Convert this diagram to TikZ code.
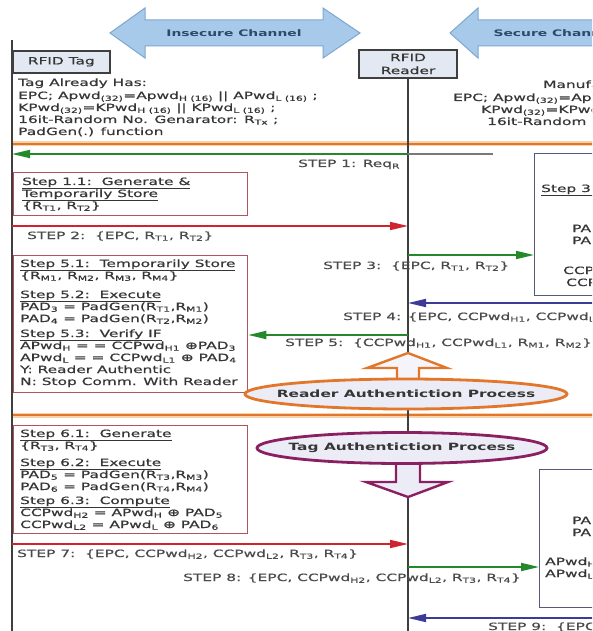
\documentclass[tikz,border=0pt]{standalone}
\usepackage{fontspec}
\setmainfont[FakeStretch=1.54, UprightFeatures={FakeBold=0.6}]{DejaVu Sans}
\usetikzlibrary{arrows.meta}

\definecolor{chanblue}{HTML}{A7C9EA}
\definecolor{chanedge}{HTML}{7EA7D0}
\definecolor{chantext}{HTML}{2E4A6B}
\definecolor{agentfill}{HTML}{E3E9F2}
\definecolor{lifegray}{HTML}{3F3F3F}
\definecolor{txtgray}{HTML}{363636}
\definecolor{steporange}{HTML}{E2762A}
\definecolor{palorange}{HTML}{F6D2AE}
\definecolor{arrgreen}{HTML}{23892B}
\definecolor{arrred}{HTML}{D0232E}
\definecolor{arrblue}{HTML}{3C3C96}
\definecolor{boxred}{HTML}{B4525E}
\definecolor{boxblue}{HTML}{56597A}
\definecolor{tagpurple}{HTML}{8A2061}
\definecolor{ellfill}{HTML}{ECECF6}

\newcommand\ix[1]{\textsubscript{#1}}

\tikzset{
  txt/.style={anchor=base west, inner sep=0pt, text=txtgray},
  steplbl/.style={anchor=base west, inner sep=0pt, text=txtgray!90},
  agent/.style={draw=lifegray, line width=1.6pt, fill=agentfill, text=txtgray, inner sep=0pt},
  lifeline/.style={draw=lifegray, line width=2pt},
  msg/.style={line width=1.8pt, -{Triangle[length=18pt,width=8pt]}},
  stepbox/.style={draw=boxred, line width=1.3pt, fill=white, inner sep=0pt},
  sidebox/.style={draw=boxblue, line width=1.3pt, fill=white, inner sep=0pt},
  chanarrow/.style={draw=chanedge, line width=1pt, fill=chanblue},
  chanlabel/.style={font=\fontsize{9}{11}\selectfont\bfseries, text=chantext},
  proclabel/.style={font=\fontsize{10}{12}\selectfont\bfseries, text=txtgray}
}

\begin{document}
\begin{tikzpicture}[x=1pt, y=-1pt, font=\fontsize{10}{12}\selectfont]

	\useasboundingbox (0,0) rectangle (592,631);
	\clip (0,0) rectangle (592,631);

	% channels
	\draw[chanarrow] (110,33) -- (145,8) -- (145,20) -- (323,20) -- (323,8) -- (360,33)
		-- (323,58) -- (323,46) -- (145,46) -- (145,58) -- cycle;
	\node[chanlabel] (insecure) at (234,33) {Insecure Channel};
	\draw[chanarrow] (450,33) -- (478,8) -- (478,20) -- (610,20) -- (610,46) -- (478,46)
		-- (478,58) -- cycle;
	\node[chanlabel, anchor=west] (secure) at (490,33) {Secure Channel};

	% separators
	\foreach \y in {144,415} {
		\draw[palorange, line width=5pt] (12,\y) -- (610,\y);
		\draw[steporange, line width=2.2pt] (12,\y) -- (610,\y);
	}

	% agents and lifelines
	\coordinate (tagtop) at (12,40);
	\coordinate (tagend) at (12,640);
	\node[agent, anchor=north west, minimum width=97pt, minimum height=22pt] (tag) at (12,50) {RFID Tag};
	\node[agent, align=center, minimum width=98pt, minimum height=28pt,
		font=\fontsize{10}{13}\selectfont] (reader) at (408,64) {RFID\\Reader};
	\draw[lifeline] (tagtop) -- (tagend);
	\draw[lifeline] (reader.south) -- (reader.south |- tagend);

	% step boxes
	\node[stepbox, anchor=north west, minimum width=234pt, minimum height=43pt] (box11) at (13,172) {};
	\node[stepbox, anchor=north west, minimum width=234pt, minimum height=137pt] (box5) at (13,255) {};
	\node[stepbox, anchor=north west, minimum width=234pt, minimum height=108pt] (box6) at (13,425) {};
	\node[sidebox, anchor=north west, minimum width=90pt, minimum height=142pt] (box3) at (534,153) {};
	\node[sidebox, anchor=north west, minimum width=90pt, minimum height=138pt] (box8) at (539,469) {};

	% messages
	\coordinate (m1) at (493,154);
	\coordinate (m2) at (12,226);
	\coordinate (m3) at (408,255);
	\coordinate (m4) at (610,303);
	\coordinate (m5) at (408,335);
	\coordinate (m7) at (12,544);
	\coordinate (m8) at (408,567);
	\coordinate (m9) at (610,618);
	\draw[line width=1.4pt, lifegray!70] (m1) -- (m1 -| reader.south);
	\draw[msg, arrgreen] (m1 -| reader.south) -- (m1 -| tagtop);
	\draw[msg, arrred] (m2) -- (m2 -| reader.south);
	\draw[msg, arrgreen] (m3) -- (m3 -| box3.west);
	\draw[msg, arrblue] (m4) -- (m4 -| reader.south);
	\draw[msg, arrgreen] (m5) -- (m5 -| box5.east);
	\draw[msg, arrred] (m7) -- (m7 -| reader.south);
	\draw[msg, arrgreen] (m8) -- (m8 -| box8.west);
	\draw[msg, arrblue] (m9) -- (m9 -| reader.south);

	% authentication processes
	\draw[steporange, line width=2.4pt, fill=ellfill!60]
		(408,353) -- (447,368) -- (419,368) -- (419,386) -- (397,386) -- (397,368) -- (367,368) -- cycle;
	\draw[steporange, line width=2.8pt, fill=ellfill] (406,394) ellipse [x radius=161, y radius=15];
	\node[proclabel] (readproc) at (406,394) {Reader Authentiction Process};

	\draw[tagpurple, line width=2.4pt, fill=ellfill]
		(396,455) -- (420,455) -- (420,482) -- (448,482) -- (408,497) -- (366,482) -- (396,482) -- cycle;
	\draw[tagpurple, line width=2.8pt, fill=ellfill] (402,448) ellipse [x radius=145, y radius=15.5];
	\node[proclabel] (tagproc) at (402,448) {Tag Authentiction Process};

	% tag knowledge
	\foreach \y/\lbl [count=\i] in {
		86/{Tag Already Has:},
		99/{EPC; Apwd\ix{(32)}=Apwd\ix{H (16)} || APwd\ix{L (16)} ;},
		111/{KPwd\ix{(32)}=KPwd\ix{H (16)} || KPwd\ix{L (16)} ;},
		123/{16it-Random No. Genarator: R\ix{Tx} ;},
		135/{PadGen(.) function}}
		\node[txt] (tk\i) at (18,\y) {\lbl};

	% manufacturer knowledge
	\node[txt] (mk1) at (543,88) {Manufacturer};
	\node[txt] (mk2) at (453,101) {EPC; Apwd\ix{(32)}=Apwd\ix{H}};
	\node[txt] (mk3) at (481,113) {KPwd\ix{(32)}=KPwd\ix{H}};
	\node[txt] (mk4) at (487,125) {16it-Random No.};

	% step 1.1
	\foreach \y/\lbl [count=\i] in {
		185/{\underline{Step 1.1:~\ Generate \&}},
		197/{\underline{Temporarily Store}},
		209/{\{R\ix{T1}, R\ix{T2}\}}}
		\node[txt] (s11l\i) at (22,\y) {\lbl};

	% step 5
	\foreach \y/\lbl [count=\i] in {
		267/{\underline{Step 5.1:~\ Temporarily Store}},
		279/{\{R\ix{M1}, R\ix{M2}, R\ix{M3}, R\ix{M4}\}},
		298/{\underline{Step 5.2:~\ Execute}},
		310/{PAD\ix{3} = PadGen(R\ix{T1},R\ix{M1})},
		322/{PAD\ix{4} = PadGen(R\ix{T2},R\ix{M2})},
		337/{\underline{Step 5.3:~\ Verify IF}},
		349/{APwd\ix{H} = = CCPwd\ix{H1} ⊕PAD\ix{3}},
		361/{APwd\ix{L} = = CCPwd\ix{L1} ⊕ PAD\ix{4}},
		373/{Y: Reader Authentic},
		385/{N: Stop Comm. With Reader}}
		\node[txt] (s5l\i) at (20,\y) {\lbl};

	% step 6
	\foreach \y/\lbl [count=\i] in {
		437/{\underline{Step 6.1:~\ Generate}},
		449/{\{R\ix{T3}, R\ix{T4}\}},
		466/{\underline{Step 6.2:~\ Execute}},
		478/{PAD\ix{5} = PadGen(R\ix{T3},R\ix{M3})},
		490/{PAD\ix{6} = PadGen(R\ix{T4},R\ix{M4})},
		504/{\underline{Step 6.3:~\ Compute}},
		516/{CCPwd\ix{H2} = APwd\ix{H} ⊕ PAD\ix{5}},
		528/{CCPwd\ix{L2} = APwd\ix{L} ⊕ PAD\ix{6}}}
		\node[txt] (s6l\i) at (20,\y) {\lbl};

	% reader side boxes
	\node[txt] (s3l1) at (541,192) {\underline{Step 3.1:}};
	\node[txt] (s3l2) at (572,232) {PAD\ix{1}};
	\node[txt] (s3l3) at (572,244) {PAD\ix{2}};
	\node[txt] (s3l4) at (563,274) {CCPwd\ix{H1}};
	\node[txt] (s3l5) at (566,286) {CCPwd\ix{L1}};
	\node[txt] (s8l1) at (572,524) {PAD\ix{5}};
	\node[txt] (s8l2) at (572,536) {PAD\ix{6}};
	\node[txt] (s8l3) at (545,565) {APwd\ix{H}};
	\node[txt] (s8l4) at (545,577) {APwd\ix{L}};

	% message labels
	\node[steplbl] (l1) at (298,167) {STEP 1: Req\ix{R}};
	\node[steplbl] (l2) at (27,239) {STEP 2:~\ \{EPC, R\ix{T1}, R\ix{T2}\}};
	\node[steplbl] (l3) at (323,269) {STEP 3:~\ \{EPC, R\ix{T1}, R\ix{T2}\}};
	\node[steplbl] (l4) at (343,320) {STEP 4: \{EPC, CCPwd\ix{H1}, CCPwd\ix{L1}\}};
	\node[steplbl] (l5) at (285,346) {STEP 5:~\ \{CCPwd\ix{H1}, CCPwd\ix{L1}, R\ix{M1}, R\ix{M2}\}};
	\node[steplbl] (l7) at (17,557) {STEP 7:~\ \{EPC, CCPwd\ix{H2}, CCPwd\ix{L2}, R\ix{T3}, R\ix{T4}\}};
	\node[steplbl] (l8) at (183,581) {STEP 8: \{EPC, CCPwd\ix{H2}, CCPwd\ix{L2}, R\ix{T3}, R\ix{T4}\}};
	\node[steplbl] (l9) at (488,630) {STEP 9:~\ \{EPC\}};

\end{tikzpicture}
\end{document}
